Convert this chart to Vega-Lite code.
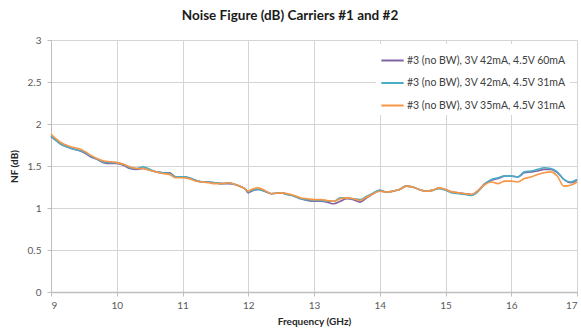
{
  "$schema": "https://vega.github.io/schema/vega-lite/v6.json",
  "width": 526,
  "height": 252,
  "autosize": {"type": "none"},
  "padding": {"left": 51, "top": 40, "right": 4, "bottom": 42},
  "background": "white",
  "title": {"text": "Noise Figure (dB) Carriers #1 and #2", "font": "Lato", "fontSize": 13.5, "fontWeight": "bold", "color": "#1a1a1a", "anchor": "middle", "frame": "group", "dx": -24, "offset": 13},
  "config": {"view": {"stroke": null}, "font": "Lato"},
  "data": {"values": [
    {"x": 9.0, "s": "A", "y": 1.85}, {"x": 9.05, "s": "A", "y": 1.82}, {"x": 9.1, "s": "A", "y": 1.79}, {"x": 9.15, "s": "A", "y": 1.76}, {"x": 9.2, "s": "A", "y": 1.74}, {"x": 9.3, "s": "A", "y": 1.71}, {"x": 9.4, "s": "A", "y": 1.69}, {"x": 9.5, "s": "A", "y": 1.66}, {"x": 9.6, "s": "A", "y": 1.61}, {"x": 9.7, "s": "A", "y": 1.58}, {"x": 9.8, "s": "A", "y": 1.54}, {"x": 9.9, "s": "A", "y": 1.53}, {"x": 10.0, "s": "A", "y": 1.53}, {"x": 10.1, "s": "A", "y": 1.51}, {"x": 10.2, "s": "A", "y": 1.47}, {"x": 10.3, "s": "A", "y": 1.46}, {"x": 10.4, "s": "A", "y": 1.47}, {"x": 10.5, "s": "A", "y": 1.45}, {"x": 10.6, "s": "A", "y": 1.43}, {"x": 10.7, "s": "A", "y": 1.42}, {"x": 10.8, "s": "A", "y": 1.42}, {"x": 10.9, "s": "A", "y": 1.37}, {"x": 11.0, "s": "A", "y": 1.37}, {"x": 11.1, "s": "A", "y": 1.36}, {"x": 11.2, "s": "A", "y": 1.33}, {"x": 11.3, "s": "A", "y": 1.31}, {"x": 11.4, "s": "A", "y": 1.31}, {"x": 11.5, "s": "A", "y": 1.3}, {"x": 11.6, "s": "A", "y": 1.29}, {"x": 11.7, "s": "A", "y": 1.29}, {"x": 11.8, "s": "A", "y": 1.28}, {"x": 11.9, "s": "A", "y": 1.25}, {"x": 11.95, "s": "A", "y": 1.23}, {"x": 12.0, "s": "A", "y": 1.18}, {"x": 12.05, "s": "A", "y": 1.2}, {"x": 12.15, "s": "A", "y": 1.22}, {"x": 12.25, "s": "A", "y": 1.2}, {"x": 12.35, "s": "A", "y": 1.17}, {"x": 12.5, "s": "A", "y": 1.18}, {"x": 12.6, "s": "A", "y": 1.16}, {"x": 12.7, "s": "A", "y": 1.14}, {"x": 12.8, "s": "A", "y": 1.11}, {"x": 12.9, "s": "A", "y": 1.09}, {"x": 13.0, "s": "A", "y": 1.08}, {"x": 13.1, "s": "A", "y": 1.08}, {"x": 13.2, "s": "A", "y": 1.07}, {"x": 13.3, "s": "A", "y": 1.05}, {"x": 13.4, "s": "A", "y": 1.08}, {"x": 13.5, "s": "A", "y": 1.11}, {"x": 13.6, "s": "A", "y": 1.1}, {"x": 13.7, "s": "A", "y": 1.07}, {"x": 13.8, "s": "A", "y": 1.12}, {"x": 13.9, "s": "A", "y": 1.17}, {"x": 14.0, "s": "A", "y": 1.21}, {"x": 14.1, "s": "A", "y": 1.19}, {"x": 14.2, "s": "A", "y": 1.2}, {"x": 14.3, "s": "A", "y": 1.22}, {"x": 14.4, "s": "A", "y": 1.26}, {"x": 14.5, "s": "A", "y": 1.25}, {"x": 14.6, "s": "A", "y": 1.22}, {"x": 14.7, "s": "A", "y": 1.2}, {"x": 14.8, "s": "A", "y": 1.21}, {"x": 14.9, "s": "A", "y": 1.235}, {"x": 15.0, "s": "A", "y": 1.22}, {"x": 15.1, "s": "A", "y": 1.19}, {"x": 15.2, "s": "A", "y": 1.18}, {"x": 15.3, "s": "A", "y": 1.17}, {"x": 15.4, "s": "A", "y": 1.16}, {"x": 15.5, "s": "A", "y": 1.21}, {"x": 15.6, "s": "A", "y": 1.29}, {"x": 15.7, "s": "A", "y": 1.33}, {"x": 15.8, "s": "A", "y": 1.35}, {"x": 15.9, "s": "A", "y": 1.38}, {"x": 16.0, "s": "A", "y": 1.38}, {"x": 16.1, "s": "A", "y": 1.37}, {"x": 16.2, "s": "A", "y": 1.42}, {"x": 16.3, "s": "A", "y": 1.43}, {"x": 16.4, "s": "A", "y": 1.44}, {"x": 16.5, "s": "A", "y": 1.46}, {"x": 16.6, "s": "A", "y": 1.46}, {"x": 16.7, "s": "A", "y": 1.42}, {"x": 16.8, "s": "A", "y": 1.34}, {"x": 16.9, "s": "A", "y": 1.3}, {"x": 17.0, "s": "A", "y": 1.33},
    {"x": 9.0, "s": "B", "y": 1.86}, {"x": 9.05, "s": "B", "y": 1.82}, {"x": 9.1, "s": "B", "y": 1.79}, {"x": 9.15, "s": "B", "y": 1.76}, {"x": 9.2, "s": "B", "y": 1.74}, {"x": 9.3, "s": "B", "y": 1.71}, {"x": 9.4, "s": "B", "y": 1.69}, {"x": 9.5, "s": "B", "y": 1.67}, {"x": 9.6, "s": "B", "y": 1.62}, {"x": 9.7, "s": "B", "y": 1.58}, {"x": 9.8, "s": "B", "y": 1.55}, {"x": 9.9, "s": "B", "y": 1.54}, {"x": 10.0, "s": "B", "y": 1.54}, {"x": 10.1, "s": "B", "y": 1.52}, {"x": 10.2, "s": "B", "y": 1.48}, {"x": 10.3, "s": "B", "y": 1.47}, {"x": 10.4, "s": "B", "y": 1.49}, {"x": 10.5, "s": "B", "y": 1.46}, {"x": 10.6, "s": "B", "y": 1.43}, {"x": 10.7, "s": "B", "y": 1.42}, {"x": 10.8, "s": "B", "y": 1.41}, {"x": 10.9, "s": "B", "y": 1.37}, {"x": 11.0, "s": "B", "y": 1.37}, {"x": 11.1, "s": "B", "y": 1.36}, {"x": 11.2, "s": "B", "y": 1.33}, {"x": 11.3, "s": "B", "y": 1.31}, {"x": 11.4, "s": "B", "y": 1.31}, {"x": 11.5, "s": "B", "y": 1.3}, {"x": 11.6, "s": "B", "y": 1.29}, {"x": 11.7, "s": "B", "y": 1.3}, {"x": 11.8, "s": "B", "y": 1.28}, {"x": 11.9, "s": "B", "y": 1.25}, {"x": 11.95, "s": "B", "y": 1.23}, {"x": 12.0, "s": "B", "y": 1.19}, {"x": 12.05, "s": "B", "y": 1.21}, {"x": 12.15, "s": "B", "y": 1.22}, {"x": 12.25, "s": "B", "y": 1.2}, {"x": 12.35, "s": "B", "y": 1.17}, {"x": 12.5, "s": "B", "y": 1.18}, {"x": 12.6, "s": "B", "y": 1.16}, {"x": 12.7, "s": "B", "y": 1.14}, {"x": 12.8, "s": "B", "y": 1.11}, {"x": 12.9, "s": "B", "y": 1.1}, {"x": 13.0, "s": "B", "y": 1.09}, {"x": 13.1, "s": "B", "y": 1.09}, {"x": 13.2, "s": "B", "y": 1.08}, {"x": 13.3, "s": "B", "y": 1.08}, {"x": 13.4, "s": "B", "y": 1.12}, {"x": 13.5, "s": "B", "y": 1.12}, {"x": 13.6, "s": "B", "y": 1.11}, {"x": 13.7, "s": "B", "y": 1.1}, {"x": 13.8, "s": "B", "y": 1.14}, {"x": 13.9, "s": "B", "y": 1.18}, {"x": 14.0, "s": "B", "y": 1.21}, {"x": 14.1, "s": "B", "y": 1.19}, {"x": 14.2, "s": "B", "y": 1.2}, {"x": 14.3, "s": "B", "y": 1.22}, {"x": 14.4, "s": "B", "y": 1.26}, {"x": 14.5, "s": "B", "y": 1.25}, {"x": 14.6, "s": "B", "y": 1.22}, {"x": 14.7, "s": "B", "y": 1.2}, {"x": 14.8, "s": "B", "y": 1.21}, {"x": 14.9, "s": "B", "y": 1.23}, {"x": 15.0, "s": "B", "y": 1.21}, {"x": 15.1, "s": "B", "y": 1.18}, {"x": 15.2, "s": "B", "y": 1.17}, {"x": 15.3, "s": "B", "y": 1.16}, {"x": 15.4, "s": "B", "y": 1.15}, {"x": 15.5, "s": "B", "y": 1.2}, {"x": 15.6, "s": "B", "y": 1.29}, {"x": 15.7, "s": "B", "y": 1.34}, {"x": 15.8, "s": "B", "y": 1.36}, {"x": 15.9, "s": "B", "y": 1.38}, {"x": 16.0, "s": "B", "y": 1.38}, {"x": 16.1, "s": "B", "y": 1.37}, {"x": 16.2, "s": "B", "y": 1.43}, {"x": 16.3, "s": "B", "y": 1.44}, {"x": 16.4, "s": "B", "y": 1.46}, {"x": 16.5, "s": "B", "y": 1.48}, {"x": 16.6, "s": "B", "y": 1.47}, {"x": 16.7, "s": "B", "y": 1.43}, {"x": 16.8, "s": "B", "y": 1.34}, {"x": 16.9, "s": "B", "y": 1.31}, {"x": 17.0, "s": "B", "y": 1.34},
    {"x": 9.0, "s": "C", "y": 1.88}, {"x": 9.05, "s": "C", "y": 1.84}, {"x": 9.1, "s": "C", "y": 1.81}, {"x": 9.15, "s": "C", "y": 1.78}, {"x": 9.2, "s": "C", "y": 1.76}, {"x": 9.3, "s": "C", "y": 1.73}, {"x": 9.4, "s": "C", "y": 1.71}, {"x": 9.5, "s": "C", "y": 1.68}, {"x": 9.6, "s": "C", "y": 1.63}, {"x": 9.7, "s": "C", "y": 1.59}, {"x": 9.8, "s": "C", "y": 1.56}, {"x": 9.9, "s": "C", "y": 1.55}, {"x": 10.0, "s": "C", "y": 1.54}, {"x": 10.1, "s": "C", "y": 1.52}, {"x": 10.2, "s": "C", "y": 1.49}, {"x": 10.3, "s": "C", "y": 1.47}, {"x": 10.4, "s": "C", "y": 1.47}, {"x": 10.5, "s": "C", "y": 1.45}, {"x": 10.6, "s": "C", "y": 1.43}, {"x": 10.7, "s": "C", "y": 1.41}, {"x": 10.8, "s": "C", "y": 1.4}, {"x": 10.9, "s": "C", "y": 1.36}, {"x": 11.0, "s": "C", "y": 1.36}, {"x": 11.1, "s": "C", "y": 1.35}, {"x": 11.2, "s": "C", "y": 1.32}, {"x": 11.3, "s": "C", "y": 1.31}, {"x": 11.4, "s": "C", "y": 1.3}, {"x": 11.5, "s": "C", "y": 1.29}, {"x": 11.6, "s": "C", "y": 1.29}, {"x": 11.7, "s": "C", "y": 1.3}, {"x": 11.8, "s": "C", "y": 1.28}, {"x": 11.9, "s": "C", "y": 1.25}, {"x": 11.95, "s": "C", "y": 1.23}, {"x": 12.0, "s": "C", "y": 1.2}, {"x": 12.05, "s": "C", "y": 1.22}, {"x": 12.15, "s": "C", "y": 1.24}, {"x": 12.25, "s": "C", "y": 1.21}, {"x": 12.35, "s": "C", "y": 1.17}, {"x": 12.5, "s": "C", "y": 1.18}, {"x": 12.6, "s": "C", "y": 1.17}, {"x": 12.7, "s": "C", "y": 1.15}, {"x": 12.8, "s": "C", "y": 1.12}, {"x": 12.9, "s": "C", "y": 1.11}, {"x": 13.0, "s": "C", "y": 1.1}, {"x": 13.1, "s": "C", "y": 1.1}, {"x": 13.2, "s": "C", "y": 1.09}, {"x": 13.3, "s": "C", "y": 1.08}, {"x": 13.4, "s": "C", "y": 1.11}, {"x": 13.5, "s": "C", "y": 1.12}, {"x": 13.6, "s": "C", "y": 1.11}, {"x": 13.7, "s": "C", "y": 1.09}, {"x": 13.8, "s": "C", "y": 1.13}, {"x": 13.9, "s": "C", "y": 1.17}, {"x": 14.0, "s": "C", "y": 1.2}, {"x": 14.1, "s": "C", "y": 1.19}, {"x": 14.2, "s": "C", "y": 1.2}, {"x": 14.3, "s": "C", "y": 1.22}, {"x": 14.4, "s": "C", "y": 1.26}, {"x": 14.5, "s": "C", "y": 1.25}, {"x": 14.6, "s": "C", "y": 1.22}, {"x": 14.7, "s": "C", "y": 1.2}, {"x": 14.8, "s": "C", "y": 1.21}, {"x": 14.9, "s": "C", "y": 1.24}, {"x": 15.0, "s": "C", "y": 1.22}, {"x": 15.1, "s": "C", "y": 1.19}, {"x": 15.2, "s": "C", "y": 1.18}, {"x": 15.3, "s": "C", "y": 1.17}, {"x": 15.4, "s": "C", "y": 1.16}, {"x": 15.5, "s": "C", "y": 1.21}, {"x": 15.6, "s": "C", "y": 1.28}, {"x": 15.7, "s": "C", "y": 1.31}, {"x": 15.8, "s": "C", "y": 1.29}, {"x": 15.9, "s": "C", "y": 1.32}, {"x": 16.0, "s": "C", "y": 1.32}, {"x": 16.1, "s": "C", "y": 1.31}, {"x": 16.2, "s": "C", "y": 1.35}, {"x": 16.3, "s": "C", "y": 1.37}, {"x": 16.4, "s": "C", "y": 1.4}, {"x": 16.5, "s": "C", "y": 1.42}, {"x": 16.6, "s": "C", "y": 1.43}, {"x": 16.7, "s": "C", "y": 1.38}, {"x": 16.8, "s": "C", "y": 1.26}, {"x": 16.9, "s": "C", "y": 1.27}, {"x": 17.0, "s": "C", "y": 1.31}
  ]},
  "mark": {"type": "line", "strokeWidth": 1.6, "interpolate": "monotone"},
  "encoding": {
    "x": {"field": "x", "type": "quantitative", "title": "Frequency (GHz)",
      "scale": {"domain": [9, 17], "nice": false, "zero": false},
      "axis": {"values": [9, 10, 11, 12, 13, 14, 15, 16, 17], "format": "d", "labelFont": "Lato", "labelFontSize": 10, "labelColor": "#595959", "labelPadding": 4, "tickColor": "#bfbfbf", "tickSize": 4, "domainColor": "#bfbfbf", "domainWidth": 1.5, "gridColor": "#d4d4d4", "titleFont": "Lato", "titleFontSize": 10, "titleFontWeight": "bold", "titleColor": "#262626", "titlePadding": 6}},
    "y": {"field": "y", "type": "quantitative", "title": "NF (dB)",
      "scale": {"domain": [0, 3], "nice": false},
      "axis": {"values": [0, 0.5, 1, 1.5, 2, 2.5, 3], "format": "~g", "labelFont": "Lato", "labelFontSize": 10, "labelColor": "#595959", "labelPadding": 6, "tickColor": "#bfbfbf", "tickSize": 4, "domainColor": "#bfbfbf", "gridColor": "#d4d4d4", "titleFont": "Lato", "titleFontSize": 10, "titleFontWeight": "bold", "titleColor": "#262626", "titlePadding": 8}},
    "color": {"field": "s", "type": "nominal",
      "scale": {"domain": ["A", "B", "C"], "range": ["#8064A2", "#4BACC6", "#F79646"]},
      "legend": {"title": null, "orient": "none", "legendX": 325, "legendY": 4, "fillColor": "white", "padding": 4,
        "symbolType": "stroke", "symbolSize": 500, "symbolStrokeWidth": 2, "labelOffset": 2, "rowPadding": 4.5,
        "labelFont": "Lato", "labelFontSize": 10.5, "labelColor": "#404040",
        "labelExpr": "{'A': '#3 (no BW), 3V 42mA, 4.5V 60mA', 'B': '#3 (no BW), 3V 42mA, 4.5V 31mA', 'C': '#3 (no BW), 3V 35mA, 4.5V 31mA'}[datum.label]"}}
  }
}
